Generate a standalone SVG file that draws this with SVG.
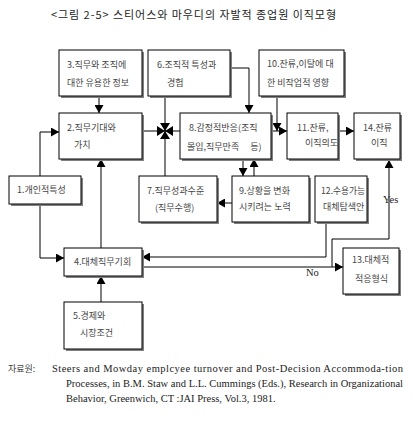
<svg xmlns="http://www.w3.org/2000/svg" width="413" height="423" viewBox="0 0 413 423">
<defs>
<marker id="arr" markerUnits="userSpaceOnUse" markerWidth="9" markerHeight="9" refX="8" refY="4.5" orient="auto">
<path d="M0,0 L8,4.5 L0,9 z" fill="#000"/>
</marker>
</defs>
<style>
.sh{fill:#808080}
.bx{fill:#fff;stroke:#000;stroke-width:1}
.t{font-family:"Noto Sans CJK KR","Noto Sans",sans-serif;font-size:9px;fill:#444}
.ttl{font-family:"Noto Sans CJK KR","Noto Sans",sans-serif;font-size:11px;fill:#222}
.en{font-family:"Liberation Serif","Noto Sans CJK KR",serif;font-size:10.5px;fill:#222}
.ln{fill:none;stroke:#000;stroke-width:1}
</style>
<rect width="413" height="423" fill="#fff"/>
<text class="ttl" x="51" y="19" textLength="285" lengthAdjust="spacing">&lt;그림 2-5&gt; 스티어스와 마우디의 자발적 종업원 이직모형</text>

<g id="connectors">
<path class="ln" d="M99,96 V113" marker-end="url(#arr)"/>
<path class="ln" d="M142,131 H180"/>
<path class="ln" d="M165,96 V176"/>
<path d="M157,126 L165,131 L157,136 z M173,126 L165,131 L173,136 z M160,123 L165,131 L170,123 z M160,139 L165,131 L170,139 z" fill="#000"/>
<path class="ln" d="M230,68 H249 V113" marker-end="url(#arr)"/>
<path class="ln" d="M277,96 V131" marker-end="url(#arr)"/>
<path class="ln" d="M271,131 H287" marker-end="url(#arr)"/>
<path class="ln" d="M338,131 H354" marker-end="url(#arr)"/>
<path class="ln" d="M40,176 V132 H59" marker-end="url(#arr)"/>
<path class="ln" d="M40,204 V258 H64" marker-end="url(#arr)"/>
<path class="ln" d="M101,248 V159" marker-end="url(#arr)"/>
<path class="ln" d="M101,302 V276" marker-end="url(#arr)"/>
<path class="ln" d="M243,159 V176" marker-end="url(#arr)"/>
<path class="ln" d="M254,176 V159" marker-end="url(#arr)"/>
<path class="ln" d="M232,203 H217" marker-end="url(#arr)"/>
<path class="ln" d="M326,222 V257 H142" marker-end="url(#arr)"/>
<path class="ln" d="M142,267 H343" marker-end="url(#arr)"/>
<path class="ln" d="M332,267 V239 H389 V160" marker-end="url(#arr)"/>
<text class="en" x="306" y="276" font-size="11">No</text>
<text class="en" x="383" y="203" font-size="11">Yes</text>
</g>

<g id="n3"><rect class="sh" x="61" y="52" width="83" height="46"/><rect class="bx" x="59" y="50" width="83" height="46"/>
<text class="t" x="67" y="68">3.직무와 조직에</text><text class="t" x="67" y="86">대한 유용한 정보</text></g>
<g id="n6"><rect class="sh" x="150" y="52" width="82" height="46"/><rect class="bx" x="148" y="50" width="82" height="46"/>
<text class="t" x="157" y="68">6.조직적 특성과</text><text class="t" x="167" y="86">경험</text></g>
<g id="n10"><rect class="sh" x="261" y="52" width="85" height="46"/><rect class="bx" x="259" y="50" width="85" height="46"/>
<text class="t" x="267" y="67">10.잔류,이탈에 대</text><text class="t" x="267" y="86">한 비작업적 영향</text></g>
<g id="n2"><rect class="sh" x="61" y="115" width="83" height="46"/><rect class="bx" x="59" y="113" width="83" height="46"/>
<text class="t" x="67" y="131">2.직무기대와</text><text class="t" x="74" y="148">가치</text></g>
<g id="n8"><rect class="sh" x="182" y="115" width="91" height="46"/><rect class="bx" x="180" y="113" width="91" height="46"/>
<text class="t" x="189" y="131">8.감정적반응(조직</text><text class="t" x="187" y="150">몰입,직무만족　  등)</text></g>
<g id="n11"><rect class="sh" x="289" y="115" width="51" height="46"/><rect class="bx" x="287" y="113" width="51" height="46"/>
<text class="t" x="297" y="131">11.잔류,</text><text class="t" x="305" y="146">이직의도</text></g>
<g id="n14"><rect class="sh" x="356" y="115" width="46" height="46"/><rect class="bx" x="354" y="113" width="46" height="46"/>
<text class="t" x="363" y="131">14.잔류</text><text class="t" x="371" y="146">이직</text></g>
<g id="n1"><rect class="sh" x="11" y="178" width="72" height="28"/><rect class="bx" x="9" y="176" width="72" height="28"/>
<text class="t" x="17" y="193">1.개인적특성</text></g>
<g id="n7"><rect class="sh" x="141" y="178" width="78" height="46"/><rect class="bx" x="139" y="176" width="78" height="46"/>
<text class="t" x="147" y="194">7.직무성과수준</text><text class="t" x="155" y="211">(직무수행)</text></g>
<g id="n9"><rect class="sh" x="234" y="178" width="77" height="46"/><rect class="bx" x="232" y="176" width="77" height="46"/>
<text class="t" x="239" y="194">9.상황을 변화</text><text class="t" x="239" y="210">시키려는 노력</text></g>
<g id="n12"><rect class="sh" x="317" y="178" width="52" height="46"/><rect class="bx" x="315" y="176" width="52" height="46"/>
<text class="t" x="321" y="194" textLength="44" lengthAdjust="spacingAndGlyphs">12.수용가능</text><text class="t" x="323" y="210">대체탐색안</text></g>
<g id="n4"><rect class="sh" x="66" y="250" width="78" height="28"/><rect class="bx" x="64" y="248" width="78" height="28"/>
<text class="t" x="74" y="265">4.대체직무기회</text></g>
<g id="n5"><rect class="sh" x="66" y="304" width="78" height="47"/><rect class="bx" x="64" y="302" width="78" height="47"/>
<text class="t" x="73" y="319">5.경제와</text><text class="t" x="80" y="336">시장조건</text></g>
<g id="n13"><rect class="sh" x="345" y="250" width="56" height="46"/><rect class="bx" x="343" y="248" width="56" height="46"/>
<text class="t" x="352" y="263">13.대체적</text><text class="t" x="355" y="282">적응형식</text></g>

<g id="source">
<text class="t" x="8" y="372" font-size="10.5">자료원:</text>
<text class="en" x="52" y="372" textLength="351" lengthAdjust="spacing">Steers and Mowday emplcyee turnover and Post-Decision Accommoda-tion</text>
<text class="en" x="66" y="387" textLength="337" lengthAdjust="spacing">Processes, in B.M. Staw and L.L. Cummings (Eds.), Research in Organizational</text>
<text class="en" x="66" y="402">Behavior, Greenwich, CT :JAI Press, Vol.3, 1981.</text>
</g>
</svg>
